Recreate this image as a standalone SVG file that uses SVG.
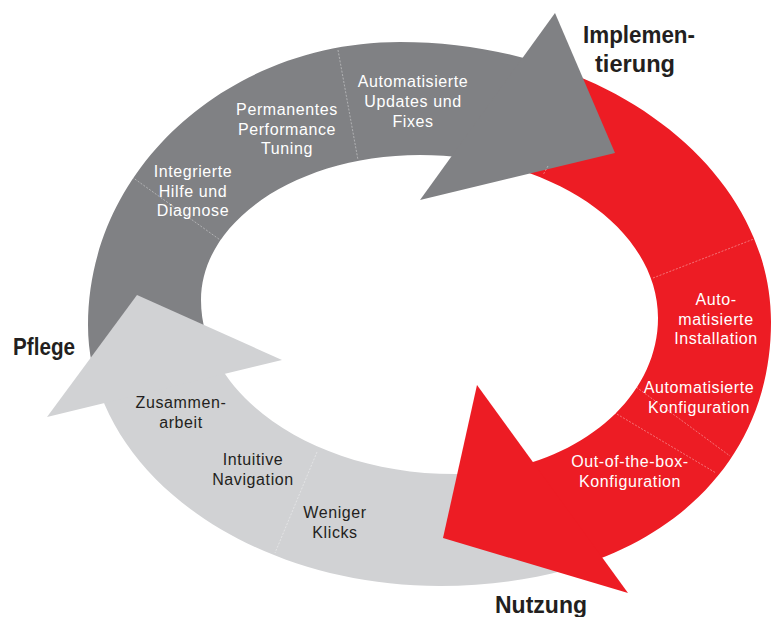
<svg xmlns="http://www.w3.org/2000/svg" width="773" height="617" viewBox="0 0 773 617">
<defs>
  <path id="ring" fill-rule="evenodd" d="M88,325 C88,168.7 227.7,42 400,42 C604.9,42 771,167.4 771,322 C771,480.4 638.6,586 440,586 C245.6,586 88,469.1 88,325 Z M201,300 C201,219.9 299,155 420,155 C551.4,155 658,228 658,318 C658,404.2 567.1,474 455,474 C314.7,474 201,396.1 201,300 Z"/>
  <clipPath id="clipGray"><polygon points="424,200 586,-24.4 586,-30 -10,-30 -10,365 260,365"/></clipPath>
  <clipPath id="clipRed"><polygon points="437.5,204 624.5,10.4 790,-10 790,640 672,657 474,385"/></clipPath>
  <clipPath id="clipLight"><polygon points="475,418 615,618 630,640 -10,640 -10,428.3 282,357.5"/></clipPath>
</defs>
<style>
  .lbl { font-family: "Liberation Sans", Arial, sans-serif; font-size: 16px; letter-spacing: 0.6px; text-anchor: middle; }
  .w { fill: #ffffff; }
  .d { fill: #231f20; }
  .phase { font-family: "Liberation Sans", Arial, sans-serif; font-size: 23px; font-weight: bold; fill: #231f20; }
  .sep { fill: none; stroke: #ffffff; stroke-opacity: 0.55; stroke-width: 0.7; stroke-dasharray: 2 1.5; }
</style>

<g id="shafts">
  <use href="#ring" fill="#808184" clip-path="url(#clipGray)"/>
  <use href="#ring" fill="#ed1c24" clip-path="url(#clipRed)"/>
  <use href="#ring" fill="#d1d2d4" clip-path="url(#clipLight)"/>
</g>

<g id="connectors">
  <polygon id="head-gray" points="555,13 615,153 420,200" fill="#808184"/>
  <polygon id="head-red" points="477,385 443,538 628,593" fill="#ed1c24"/>
  <polygon id="head-light" points="137,295 282,360 47,417" fill="#d1d2d4"/>
  <line class="sep" x1="132" y1="177" x2="223" y2="242"/>
  <line class="sep" x1="338" y1="50" x2="358" y2="160"/>
  <line class="sep" x1="653" y1="278" x2="759" y2="237"/>
  <line class="sep" x1="628" y1="381" x2="730" y2="456"/>
  <line class="sep" x1="605" y1="407" x2="716" y2="473"/>
  <line class="sep" x1="548" y1="166" x2="543" y2="175"/>
  <line class="sep" x1="317" y1="452" x2="275" y2="553"/>
</g>

<g id="node-pflege-segment">
  <text class="lbl w" x="193" y="177">Integrierte</text>
  <text class="lbl w" x="193" y="197">Hilfe und</text>
  <text class="lbl w" x="193" y="216">Diagnose</text>
  <text class="lbl w" x="287" y="115">Permanentes</text>
  <text class="lbl w" x="287" y="135">Performance</text>
  <text class="lbl w" x="287" y="154">Tuning</text>
  <text class="lbl w" x="413" y="87">Automatisierte</text>
  <text class="lbl w" x="413" y="107">Updates und</text>
  <text class="lbl w" x="413" y="127">Fixes</text>
</g>

<g id="node-implementierung-segment">
  <text class="lbl w" x="716" y="305">Auto-</text>
  <text class="lbl w" x="716" y="325">matisierte</text>
  <text class="lbl w" x="716" y="344">Installation</text>
  <text class="lbl w" x="699" y="393">Automatisierte</text>
  <text class="lbl w" x="699" y="413">Konfiguration</text>
  <text class="lbl w" x="630" y="467">Out-of-the-box-</text>
  <text class="lbl w" x="630" y="487">Konfiguration</text>
</g>

<g id="node-nutzung-segment">
  <text class="lbl d" x="181" y="408">Zusammen-</text>
  <text class="lbl d" x="181" y="428">arbeit</text>
  <text class="lbl d" x="253" y="465">Intuitive</text>
  <text class="lbl d" x="253" y="485">Navigation</text>
  <text class="lbl d" x="335" y="518">Weniger</text>
  <text class="lbl d" x="335" y="538">Klicks</text>
</g>

<g id="node-phases">
  <text class="phase" x="583" y="43" textLength="112" lengthAdjust="spacingAndGlyphs">Implemen-</text>
  <text class="phase" x="595" y="72" textLength="80" lengthAdjust="spacingAndGlyphs">tierung</text>
  <text class="phase" x="13" y="355" textLength="62" lengthAdjust="spacingAndGlyphs">Pflege</text>
  <text class="phase" x="495" y="613" textLength="92" lengthAdjust="spacingAndGlyphs">Nutzung</text>
</g>
</svg>
